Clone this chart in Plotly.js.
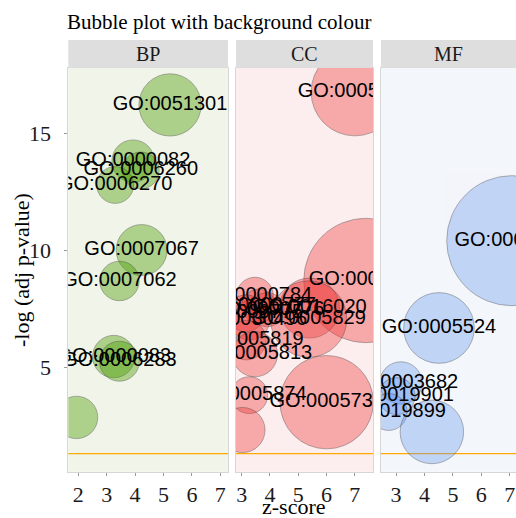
<!DOCTYPE html>
<html><head><meta charset="utf-8">
<script src="https://cdn.plot.ly/plotly-3.0.1.min.js"></script>
<style>html,body{margin:0;padding:0;background:#fff}#chart{width:516px;height:518px}</style>
</head><body><div id="chart"></div>
<script>
// ---- data ----
const categories = ['BP', 'CC', 'MF'];

const bpIds    = ['GO:0051301','GO:0000082','GO:0006260','GO:0006270','GO:0007067','GO:0007062','GO:0000083','GO:0006283','GO:0006281'];
const bpZ      = [5.23, 3.93, 4.20, 3.30, 4.23, 3.45, 3.25, 3.45, 1.94];
const bpLogP   = [16.2, 13.8, 13.4, 12.78, 10.0, 8.68, 5.45, 5.25, 2.85];
const bpCount  = [97, 45, 34, 34, 65, 39, 45, 40, 45];

const ccIds    = ['GO:0005654','GO:0005634','GO:0000784','GO:0000777','GO:0000776','GO:0016020','GO:0005829','GO:0030496','GO:0000775','GO:0005819','GO:0005813','GO:0005874','GO:0005737','GO:0005694'];
const ccZ      = [7.01, 7.40, 3.47, 3.60, 3.90, 5.40, 5.37, 3.29, 3.15, 3.17, 3.47, 3.27, 6.01, 3.03];
const ccLogP   = [16.75, 8.7, 8.05, 7.6, 7.45, 7.52, 7.05, 7.0, 7.3, 6.15, 5.55, 3.8, 3.5, 2.31];
const ccCount  = [192, 387, 34, 29, 29, 90, 146, 39, 34, 39, 51, 34, 218, 51];

const mfIds    = ['GO:0005515','GO:0005524','GO:0003682','GO:0019901','GO:0019899','GO:0000166'];
const mfZ      = [7.07, 4.51, 3.17, 3.02, 2.74, 4.26];
const mfLogP   = [10.4, 6.67, 4.32, 3.76, 3.08, 2.23];
const mfCount  = [423, 125, 45, 34, 34, 101];

const xTicks = [2, 3, 4, 5, 6, 7];
const yTicks = [5, 10, 15];
const threshold = -Math.log10(0.05);
const labelCutoff = 3;

// ---- layout helpers ----
const W = 516, H = 518;
const px2x = p => p / W;
const px2y = p => 1 - p / H;
const panelPx = [[68.3, 228], [236, 373], [381, 516]];
const xRanges = [[1.65, 7.27], [2.80, 7.65], [2.47, 7.22]];
const yRange = [0.53, 17.79];
const yDom = [px2y(471.7), px2y(67.7)];
const fills = ['rgba(74,155,0,0.58)', 'rgba(238,59,59,0.55)', 'rgba(100,149,237,0.5)'];
const bgs = ['#F1F5E9', '#FCEEEE', '#F3F6FB'];
const serif = 'Liberation Serif, Times New Roman, serif';
const sans = 'Liberation Sans, Arial, sans-serif';

const sets = [
  {ids: bpIds, z: bpZ, p: bpLogP, n: bpCount},
  {ids: ccIds, z: ccZ, p: ccLogP, n: ccCount},
  {ids: mfIds, z: mfZ, p: mfLogP, n: mfCount}
];

const traces = [];
sets.forEach((s, i) => {
  const sfx = i === 0 ? '' : String(i + 1);
  traces.push({
    type: 'scatter', mode: 'markers', x: s.z, y: s.p,
    xaxis: 'x' + sfx, yaxis: 'y' + sfx,
    marker: {size: s.n, sizemode: 'area', sizeref: 0.05, color: fills[i],
             line: {color: 'rgba(40,40,40,0.6)', width: 0.8}},
    hoverinfo: 'skip'
  });
});
sets.forEach((s, i) => {
  const sfx = i === 0 ? '' : String(i + 1);
  traces.push({
    type: 'scatter', mode: 'text', x: s.z, y: s.p,
    xaxis: 'x' + sfx, yaxis: 'y' + sfx,
    text: s.ids.map((id, k) => s.p[k] > labelCutoff ? id : ''),
    textposition: 'middle center',
    textfont: {family: sans, size: 20, color: '#000'},
    hoverinfo: 'skip'
  });
});

const layout = {
  width: W, height: H, showlegend: false, hovermode: false,
  margin: {l: 0, r: 0, t: 0, b: 0},
  paper_bgcolor: '#fff', plot_bgcolor: 'rgba(0,0,0,0)',
  title: {text: 'Bubble plot with background colour', x: px2x(67), xanchor: 'left', xref: 'paper',
          y: px2y(22), yanchor: 'middle', yref: 'paper',
          font: {family: serif, size: 21, color: '#000'}},
  shapes: [], annotations: []
};

categories.forEach((c, i) => {
  const sfx = i === 0 ? '' : String(i + 1);
  layout['xaxis' + sfx] = {
    domain: [px2x(panelPx[i][0]), px2x(panelPx[i][1])], range: xRanges[i], anchor: 'y' + sfx,
    tickmode: 'array', tickvals: xTicks, ticktext: xTicks.map(String),
    showline: true, mirror: true, linecolor: '#d6d6d6', linewidth: 1,
    ticks: 'outside', ticklen: 3, tickcolor: '#9a9a9a', tickwidth: 1,
    showgrid: false, zeroline: false,
    tickfont: {family: serif, size: 22, color: '#1a1a1a'}
  };
  layout['yaxis' + sfx] = {
    domain: yDom, range: yRange, anchor: 'x' + sfx,
    tickmode: 'array', tickvals: yTicks, ticktext: yTicks.map(String),
    showline: true, mirror: true, linecolor: '#d6d6d6', linewidth: 1,
    ticks: i === 0 ? 'outside' : '', ticklen: 3, tickcolor: '#9a9a9a',
    showticklabels: i === 0, ticklabelstandoff: 9,
    showgrid: false, zeroline: false,
    tickfont: {family: serif, size: 22, color: '#1a1a1a'}
  };
  // panel background
  layout.shapes.push({type: 'rect', xref: 'x' + sfx + ' domain', yref: 'y' + sfx + ' domain',
    x0: 0, x1: 1, y0: 0, y1: 1, fillcolor: bgs[i], line: {width: 0}, layer: 'below'});
  // significance line
  layout.shapes.push({type: 'line', xref: 'x' + sfx + ' domain', yref: 'y' + sfx,
    x0: 0, x1: 1, y0: threshold, y1: threshold, line: {color: '#FFAA00', width: 1.4}, layer: 'below'});
  // strip
  layout.shapes.push({type: 'rect', xref: 'paper', yref: 'paper',
    x0: px2x(panelPx[i][0]), x1: px2x(panelPx[i][1]), y0: px2y(67.7), y1: px2y(40),
    fillcolor: '#dedede', line: {width: 0}});
  layout.annotations.push({text: c, xref: 'paper', yref: 'paper', showarrow: false,
    x: px2x((panelPx[i][0] + panelPx[i][1]) / 2), y: px2y(54), xanchor: 'center', yanchor: 'middle',
    font: {family: serif, size: 20, color: '#1a1a1a'}});
});

layout.annotations.push({text: 'z-score', xref: 'paper', yref: 'paper', showarrow: false,
  x: px2x(294), y: px2y(506), xanchor: 'center', yanchor: 'middle',
  font: {family: serif, size: 22, color: '#000'}});
layout.annotations.push({text: '-log (adj p-value)', xref: 'paper', yref: 'paper', showarrow: false,
  x: px2x(21), y: px2y(270), xanchor: 'center', yanchor: 'middle', textangle: -90,
  font: {family: serif, size: 22, color: '#000'}});

Plotly.newPlot('chart', traces, layout, {displayModeBar: false, staticPlot: true});
</script>
</body></html>
